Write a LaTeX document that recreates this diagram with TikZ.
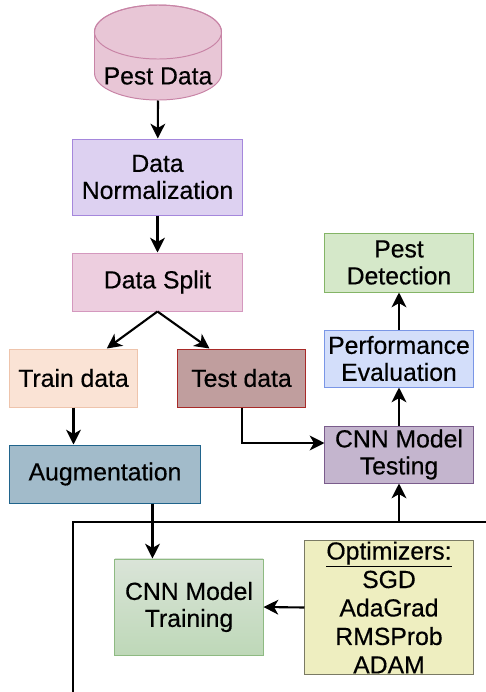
\documentclass[tikz,border=0pt]{standalone}
\usepackage{fontspec}
\setmainfont{Liberation Sans}[FakeBold=0.4]
\usetikzlibrary{positioning,calc,arrows.meta}
\usepackage{xcolor}

\definecolor{dbfill}{RGB}{232,198,214}
\definecolor{dbline}{RGB}{200,132,166}
\definecolor{normfill}{RGB}{221,209,241}
\definecolor{normline}{RGB}{165,135,220}
\definecolor{splitfill}{RGB}{237,206,223}
\definecolor{splitline}{RGB}{212,152,190}
\definecolor{trainfill}{RGB}{250,227,213}
\definecolor{trainline}{RGB}{238,196,172}
\definecolor{testfill}{RGB}{192,158,158}
\definecolor{testline}{RGB}{168,42,40}
\definecolor{augfill}{RGB}{162,187,202}
\definecolor{augline}{RGB}{32,100,140}
\definecolor{cnnfill}{RGB}{196,181,206}
\definecolor{cnnline}{RGB}{122,92,140}
\definecolor{perffill}{RGB}{211,222,250}
\definecolor{perfline}{RGB}{122,150,230}
\definecolor{detfill}{RGB}{213,232,201}
\definecolor{detline}{RGB}{132,180,102}
\definecolor{fittop}{RGB}{218,228,216}
\definecolor{fitbot}{RGB}{190,216,184}
\definecolor{fitline}{RGB}{142,186,130}
\definecolor{optfill}{RGB}{238,238,192}
\definecolor{optline}{RGB}{122,122,100}

\begin{document}
\begin{tikzpicture}[x=0.025cm,y=-0.025cm]
	% 定义流程框样式
	\tikzstyle{box} = [rectangle, line width=0.7pt, inner sep=0pt, align=center, font=\fontsize{17.6}{19.2}\selectfont]	% 普通方框
	\tikzstyle{arrow} = [line width=1.5pt,-{Stealth[length=10.5pt,width=10.5pt,inset=3pt]}]	% 箭头
	\tikzstyle{line} = [line width=1.5pt]	% 外框线
	\useasboundingbox (0,0) rectangle (486,692);

	% 数据库圆柱
	\filldraw[line width=0.7pt, draw=dbline, fill=dbfill] (94.5,32) -- (94.5,73)
		arc[start angle=180, end angle=360, x radius=1.5875cm, y radius=0.675cm]
		-- (221.5,32) arc[start angle=0, end angle=180, x radius=1.5875cm, y radius=0.675cm] -- cycle;
	\draw[line width=0.7pt, draw=dbline] (158,32) ellipse [x radius=1.5875cm, y radius=0.675cm];
	\node (data) [box, minimum width=3.175cm, minimum height=1.2cm] at (158,76) {Pest Data};

	% 左侧流程
	\node (norm) [box, draw=normline, fill=normfill, minimum width=4.225cm, minimum height=1.9cm] at (157.5,177) {Data\\Normalization};
	\node (split) [box, draw=splitline, fill=splitfill, minimum width=4.225cm, minimum height=1.45cm] at (157.5,282) {Data Split};
	\node (train) [box, draw=trainline, fill=trainfill, minimum width=3.175cm, minimum height=1.45cm] at (73.5,378) {Train data};
	\node (testd) [box, draw=testline, fill=testfill, minimum width=3.175cm, minimum height=1.45cm] at (241.5,378) {Test data};
	\node (aug) [box, draw=augline, fill=augfill, minimum width=4.75cm, minimum height=1.45cm] at (105,474) {Augmentation};

	% 右侧流程
	\node (cnntest) [box, draw=cnnline, fill=cnnfill, minimum width=3.7cm, minimum height=1.425cm] at (399,454.5) {CNN Model\\Testing};
	\node (perf) [box, draw=perfline, fill=perffill, minimum width=3.7cm, minimum height=1.425cm] at (399,358.5) {Performance\\Evaluation};
	\node (detect) [box, draw=detline, fill=detfill, minimum width=3.7cm, minimum height=1.475cm] at (399,262.5) {Pest\\Detection};

	% 训练部分
	\node (cnntrain) [box, draw=fitline, top color=fittop, bottom color=fitbot, minimum width=3.7cm, minimum height=2.4cm] at (189,607) {CNN Model\\Training};
	\node (optim) [box, draw=optline, fill=optfill, minimum width=4.2cm, minimum height=3.325cm, font=\fontsize{17.6}{20.25}\selectfont] at (389,607.5) {\underline{Optimizers:}\\SGD\\AdaGrad\\RMSProb\\ADAM};

	\coordinate (trin) at ($(train.north west)!0.76!(train.north east)$);
	\coordinate (tein) at ($(testd.north west)!0.25!(testd.north east)$);
	\coordinate (augin) at ($(cnntrain.north west)+(38,0)$);
	\coordinate (fr) at (cnntest.south |- 0,522);
	\coordinate (frl) at (73,522);

	% 连接
	\draw [arrow] (data.south) -- (norm);
	\draw [arrow] (norm) -- (split);
	\draw [arrow] (split.south) -- (trin);
	\draw [arrow] (split.south) -- (tein);
	\draw [arrow] (train.south) -- (train.south |- aug.north);
	\draw [arrow] ($(testd.south)+(0.5,0)$) |- ($(cnntest.west)+(0,-11.5)$);
	\draw [arrow] (aug.south -| augin) -- (augin);
	\draw [arrow] (optim.west) -- (cnntrain.east);
	\draw [arrow] (cnntest) -- (perf);
	\draw [arrow] (perf) -- (detect);
	\draw [line] (73,692) -- (frl) -- (486,522);
	\draw [arrow] (fr) -- (cnntest.south);
\end{tikzpicture}
\end{document}
